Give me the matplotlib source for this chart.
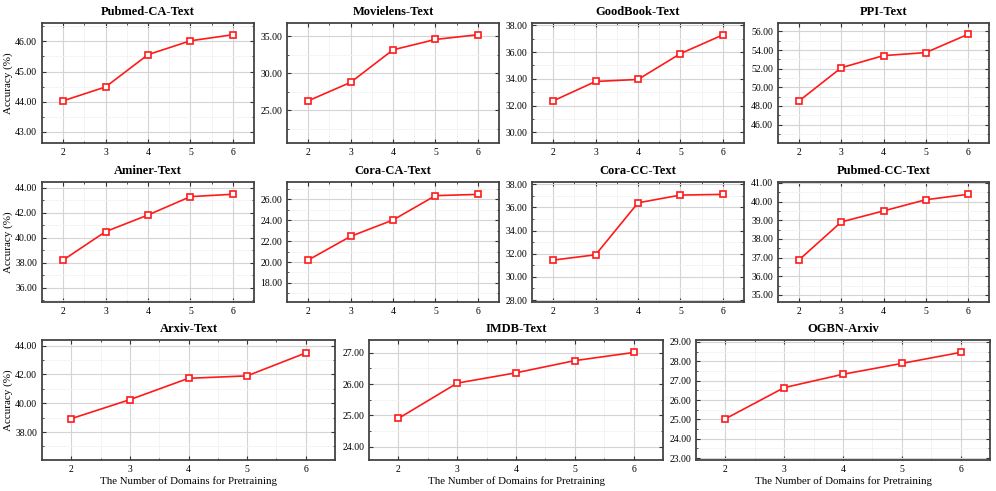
import matplotlib
matplotlib.use("Agg")
import matplotlib.pyplot as plt
from matplotlib.ticker import MultipleLocator, AutoMinorLocator, FormatStrFormatter

plt.rcParams['font.family'] = ['Liberation Serif', 'DejaVu Serif']

# data
domains = [2, 3, 4, 5, 6]
titles = ['Pubmed-CA-Text', 'Movielens-Text', 'GoodBook-Text', 'PPI-Text',
          'Aminer-Text', 'Cora-CA-Text', 'Cora-CC-Text', 'Pubmed-CC-Text',
          'Arxiv-Text', 'IMDB-Text', 'OGBN-Arxiv']
pubmed_ca = [44.03, 44.49, 45.56, 46.02, 46.22]
movielens = [26.27, 28.77, 33.18, 34.59, 35.23]
goodbook = [32.35, 33.80, 33.95, 35.88, 37.28]
ppi = [48.54, 52.10, 53.40, 53.72, 55.68]
aminer = [38.21, 40.48, 41.81, 43.28, 43.47]
cora_ca = [20.19, 22.44, 24.00, 26.32, 26.44]
cora_cc = [31.45, 31.91, 36.40, 37.07, 37.13]
pubmed_cc = [36.88, 38.91, 39.50, 40.10, 40.39]
arxiv = [38.93, 40.25, 41.73, 41.90, 43.49]
imdb = [24.90, 26.03, 26.36, 26.75, 27.01]
ogbn = [25.03, 26.64, 27.33, 27.89, 28.46]
series = [pubmed_ca, movielens, goodbook, ppi, aminer, cora_ca, cora_cc,
          pubmed_cc, arxiv, imdb, ogbn]
ylims = [(42.63, 46.61), (20.55, 36.82), (29.2, 38.17), (44.02, 56.9),
         (34.85, 44.45), (16.19, 27.62), (27.83, 38.2), (34.62, 41.05),
         (36.06, 44.39), (23.57, 27.41), (22.9, 29.1)]
ysteps = [1, 5, 2, 2, 2, 2, 2, 1, 2, 1, 1]

W, H = 996, 491
fig = plt.figure(figsize=(W / 100, H / 100), dpi=100)

# axes boxes in pixels: left, right, top, bottom
boxes = [(42, 254, 23, 143), (287, 499, 23, 143), (532, 744, 23, 143), (778, 989, 23, 143),
         (42, 254, 182, 302), (287, 499, 182, 302), (532, 744, 182, 302), (778, 989, 182, 302),
         (42, 335, 340, 460), (369, 663, 340, 460), (696, 990, 340, 460)]

for i, (l, r, t, b) in enumerate(boxes):
    ax = fig.add_axes([l / W, 1 - b / H, (r - l) / W, (b - t) / H])
    ax.plot(domains, series[i], color='#ff1a1a', lw=1.2, marker='s', ms=5,
            mfc='white', mec='#ff1a1a', mew=1.2, zorder=3)
    ax.set_xlim(1.5, 6.5)
    ax.set_ylim(*ylims[i])
    ax.xaxis.set_major_locator(MultipleLocator(1))
    ax.yaxis.set_major_locator(MultipleLocator(ysteps[i]))
    ax.xaxis.set_minor_locator(AutoMinorLocator(2))
    ax.yaxis.set_minor_locator(AutoMinorLocator(2))
    ax.yaxis.set_major_formatter(FormatStrFormatter('%.2f'))
    ax.grid(which='major', color='#d4d4d4', lw=0.8)
    ax.grid(which='minor', color='#f2f2f2', lw=0.6)
    ax.set_axisbelow(True)
    ax.tick_params(which='both', direction='in', top=True, right=True,
                   labelsize=7, color='#333333')
    ax.tick_params(which='major', length=3)
    ax.tick_params(which='minor', length=1.5)
    for s in ax.spines.values():
        s.set_color('#444444')
        s.set_linewidth(1.3)
    ax.set_title(titles[i], fontsize=9, fontweight='bold', pad=6)
    if i in (0, 4, 8):
        ax.set_ylabel('Accuracy (%)', fontsize=8, labelpad=1)
    if i >= 8:
        ax.set_xlabel('The Number of Domains for Pretraining', fontsize=7.8, labelpad=2)

fig.savefig('out.png', dpi=100)
